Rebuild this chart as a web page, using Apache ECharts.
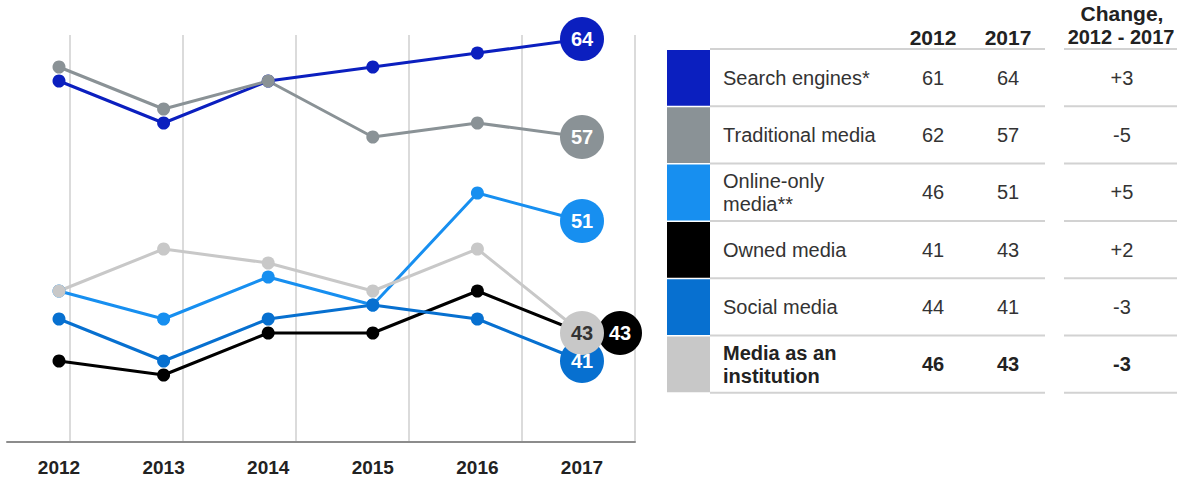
<!DOCTYPE html>
<html><head><meta charset="utf-8">
<script src="https://cdn.jsdelivr.net/npm/echarts@6/dist/echarts.min.js"></script>
<style>html,body{margin:0;padding:0;background:#fff}#c{width:1177px;height:477px}</style>
</head><body><div id="c"></div>
<script>
// ---- data ----
const years = ['2012', '2013', '2014', '2015', '2016', '2017'];
const seriesNames = ['Search engines*', 'Traditional media', 'Online-only\nmedia**', 'Owned media', 'Social media', 'Media as an\ninstitution'];
const searchEngines    = [61, 58, 61, 62, 63, 64];
const traditionalMedia = [62, 59, 61, 57, 58, 57];
const onlineOnlyMedia  = [46, 44, 47, 45, 53, 51];
const ownedMedia       = [41, 40, 43, 43, 46, 43];
const socialMedia      = [44, 41, 44, 45, 44, 41];
const mediaInstitution = [46, 49, 48, 46, 49, 43];
const tableHeaderYears = ['2012', '2017'];
const changeHeader = ['Change,', '2012 - 2017'];

// ---- style ----
const colors = ['#0b1fbf', '#8a9296', '#178ff0', '#000000', '#0770d0', '#c8c8c8'];
const FONT = '"Liberation Sans", Arial, Helvetica, sans-serif';
const allData = [searchEngines, traditionalMedia, onlineOnlyMedia, ownedMedia, socialMedia, mediaInstitution];

const series = allData.map((arr, i) => ({
  type: 'line',
  name: seriesNames[i],
  xAxisIndex: 0, yAxisIndex: 0,
  symbol: 'circle', symbolSize: 13, showAllSymbol: true,
  lineStyle: { color: colors[i], width: 3 },
  itemStyle: { color: colors[i] },
  label: { show: false, position: 'inside', color: i === 5 ? '#333' : '#fff', fontWeight: 'bold', fontSize: 20, fontFamily: FONT },
  emphasis: { disabled: true },
  data: arr.map((v, j) => j === arr.length - 1
    ? { value: v, symbolSize: 44, symbolOffset: i === 3 ? [38, 0] : [0, 0], label: { show: true } }
    : v)
}));

// ---- table (graphic) ----
const T = { swX: 667, swW: 43, top: 49, rowH: 57.3, l1a: 710, l1b: 1045, l2a: 1064, l2b: 1180,
            labelX: 723, c1: 933, c2: 1008, c3: 1122 };
const graphic = [];
function txt(text, x, y, o) {
  graphic.push({ type: 'text', x: x, y: y, silent: true, style: Object.assign({
    text: text, fill: '#333', fontSize: 20, fontFamily: FONT, align: 'center', verticalAlign: 'middle', lineHeight: 23 }, o || {}) });
}
const HEAD = { fontWeight: 'bold', fontSize: 21, fill: '#222' };
txt(tableHeaderYears[0], T.c1, 37, HEAD);
txt(tableHeaderYears[1], T.c2, 37, HEAD);
txt(changeHeader[0], T.c3, 13, HEAD);
txt(changeHeader[1], 1121, 37, Object.assign({}, HEAD, { fontSize: 20 }));
for (let k = 0; k <= allData.length; k++) {
  const y = T.top + k * T.rowH;
  graphic.push({ type: 'line', silent: true, shape: { x1: T.l1a, y1: y, x2: T.l1b, y2: y }, style: { stroke: '#d2d2d2', lineWidth: 2 } });
  graphic.push({ type: 'line', silent: true, shape: { x1: T.l2a, y1: y, x2: T.l2b, y2: y }, style: { stroke: '#d2d2d2', lineWidth: 2 } });
}
allData.forEach((arr, i) => {
  const y0 = T.top + i * T.rowH;
  const cy = y0 + T.rowH / 2;
  const isBold = i === allData.length - 1;
  const st = { fontWeight: isBold ? 'bold' : 'normal', fill: isBold ? '#222' : '#333' };
  const first = arr[0], last = arr[arr.length - 1], d = last - first;
  graphic.push({ type: 'rect', silent: true, shape: { x: T.swX, y: y0 + 1, width: T.swW, height: T.rowH - 1.5 }, style: { fill: colors[i] } });
  txt(seriesNames[i], T.labelX, cy, Object.assign({ align: 'left' }, st));
  txt(String(first), T.c1, cy, st);
  txt(String(last), T.c2, cy, st);
  txt((d > 0 ? '+' : '') + d, T.c3, cy, st);
});

const option = {
  animation: false,
  backgroundColor: '#fff',
  grid: [
    { left: 59, right: 595, top: 25, bottom: 32 },
    { left: 70, right: 542, top: 35, bottom: 35 },
    { left: 7, right: 542, top: 35, bottom: 35 }
  ],
  xAxis: [
    { gridIndex: 0, type: 'category', data: years, boundaryGap: false,
      axisLine: { show: false }, axisTick: { show: false }, splitLine: { show: false },
      axisLabel: { margin: 13, fontSize: 19, fontWeight: 'bold', color: '#222', fontFamily: FONT } },
    { gridIndex: 1, type: 'value', min: 0, max: 5, interval: 1,
      axisLine: { show: false }, axisTick: { show: false }, axisLabel: { show: false },
      splitLine: { show: true, showMinLine: true, showMaxLine: true, lineStyle: { color: '#cfcfcf', width: 1.5 } } },
    { gridIndex: 2, type: 'value', min: 0, max: 1,
      axisLine: { show: true, lineStyle: { color: '#8c8c8c', width: 2 } }, axisTick: { show: false },
      axisLabel: { show: false }, splitLine: { show: false } }
  ],
  yAxis: [
    { gridIndex: 0, type: 'value', min: 35, max: 65, show: false, splitLine: { show: false } },
    { gridIndex: 1, type: 'value', min: 0, max: 1, show: false, splitLine: { show: false } },
    { gridIndex: 2, type: 'value', min: 0, max: 1, show: false, splitLine: { show: false } }
  ],
  graphic: graphic,
  series: series
};
const chart = echarts.init(document.getElementById('c'), null, { renderer: 'svg' });
chart.setOption(option);
</script>
</body></html>
